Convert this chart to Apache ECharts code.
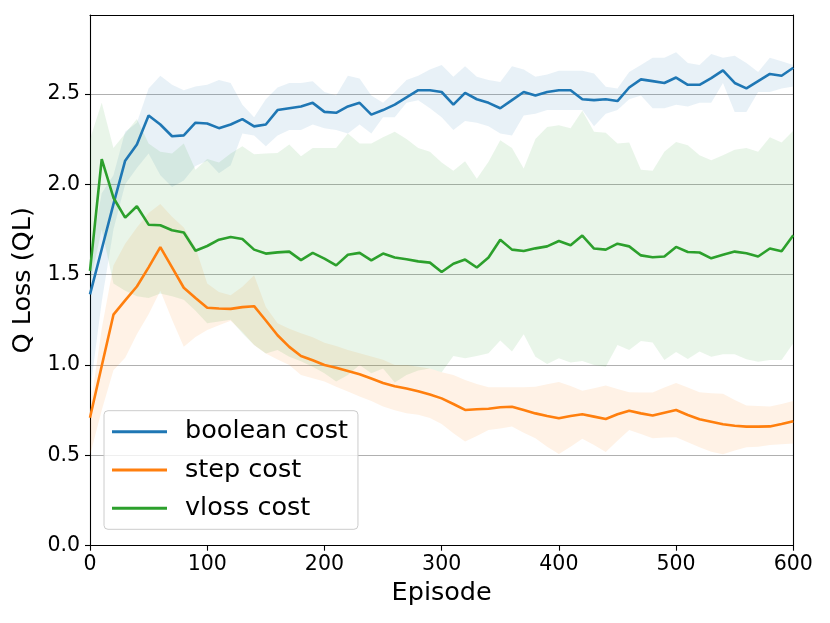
<!DOCTYPE html>
<html>
<head>
<meta charset="utf-8">
<script src="https://cdn.jsdelivr.net/npm/echarts@6/dist/echarts.min.js"></script>
<style>
  html, body { margin: 0; padding: 0; background: #fff; }
  #chart { width: 830px; height: 623px; }
</style>
</head>
<body>
<div id="chart"></div>
<script>
// episodes (x values)
const episodes = [0, 10, 20, 30, 40, 50, 60, 70, 80, 90,
  100, 110, 120, 130, 140, 150, 160, 170, 180, 190,
  200, 210, 220, 230, 240, 250, 260, 270, 280, 290,
  300, 310, 320, 330, 340, 350, 360, 370, 380, 390,
  400, 410, 420, 430, 440, 450, 460, 470, 480, 490,
  500, 510, 520, 530, 540, 550, 560, 570, 580, 590, 600];

const yTicks = [0, 0.5, 1.0, 1.5, 2.0, 2.5];
const seriesNames = ['boolean cost', 'step cost', 'vloss cost'];

// boolean cost
const booleanMean = [1.39, 1.64, 1.89, 2.13, 2.22, 2.38, 2.33, 2.265, 2.27, 2.34,
  2.336, 2.31, 2.33, 2.36, 2.32, 2.33, 2.41, 2.42, 2.43, 2.45,
  2.40, 2.395, 2.43, 2.45, 2.385, 2.41, 2.44, 2.48, 2.52, 2.52,
  2.51, 2.44, 2.505, 2.47, 2.45, 2.42, 2.465, 2.51, 2.49, 2.51,
  2.52, 2.52, 2.47, 2.465, 2.47, 2.46, 2.535, 2.58, 2.57, 2.56,
  2.59, 2.55, 2.55, 2.587, 2.63, 2.56, 2.53, 2.57, 2.61, 2.60, 2.644];
const booleanUpper = [1.6, 1.95, 2.05, 2.29, 2.34, 2.53, 2.60, 2.55, 2.52, 2.54,
  2.55, 2.576, 2.56, 2.44, 2.37, 2.47, 2.535, 2.56, 2.56, 2.57,
  2.51, 2.49, 2.60, 2.585, 2.49, 2.45, 2.51, 2.576, 2.60, 2.635,
  2.66, 2.594, 2.653, 2.594, 2.576, 2.566, 2.653, 2.635, 2.594, 2.607,
  2.627, 2.627, 2.627, 2.613, 2.539, 2.53, 2.62, 2.659, 2.70, 2.70,
  2.73, 2.67, 2.66, 2.72, 2.70, 2.71, 2.67, 2.62, 2.70, 2.68, 2.66];
const booleanLower = [0.85, 1.35, 1.75, 2.0, 2.09, 2.17, 2.05, 1.985, 2.02, 2.1,
  2.13, 2.06, 2.105, 2.28, 2.27, 2.21, 2.27, 2.30, 2.30, 2.33,
  2.31, 2.30, 2.28, 2.33, 2.28, 2.37, 2.37, 2.45, 2.465, 2.42,
  2.37, 2.30, 2.35, 2.34, 2.32, 2.28, 2.27, 2.38, 2.39, 2.41,
  2.41, 2.41, 2.41, 2.32, 2.39, 2.41, 2.47, 2.49, 2.42, 2.42,
  2.44, 2.43, 2.45, 2.45, 2.56, 2.40, 2.40, 2.51, 2.51, 2.53, 2.54];

// step cost
const stepMean = [0.708, 0.994, 1.278, 1.357, 1.434, 1.54, 1.652, 1.54, 1.427, 1.37,
  1.316, 1.312, 1.31, 1.32, 1.325, 1.246, 1.164, 1.10, 1.05, 1.026,
  1.0, 0.985, 0.967, 0.949, 0.925, 0.90, 0.882, 0.87, 0.855, 0.836,
  0.815, 0.784, 0.751, 0.755, 0.758, 0.766, 0.769, 0.751, 0.732, 0.718,
  0.705, 0.718, 0.727, 0.714, 0.701, 0.727, 0.747, 0.732, 0.72, 0.736,
  0.751, 0.723, 0.70, 0.686, 0.672, 0.664, 0.659, 0.659, 0.66, 0.673, 0.688];
const stepUpper = [0.75, 1.2, 1.55, 1.67, 1.76, 1.84, 1.89, 1.82, 1.76, 1.65,
  1.45, 1.404, 1.386, 1.432, 1.496, 1.32, 1.23, 1.20, 1.175, 1.153,
  1.123, 1.105, 1.083, 1.065, 1.047, 1.029, 1.0, 1.0, 0.99, 0.98,
  0.96, 0.945, 0.917, 0.895, 0.876, 0.876, 0.876, 0.876, 0.88, 0.893,
  0.906, 0.884, 0.857, 0.871, 0.886, 0.867, 0.849, 0.847, 0.847, 0.875,
  0.90, 0.875, 0.849, 0.843, 0.84, 0.806, 0.775, 0.773, 0.77, 0.784, 0.80];
const stepLower = [0.5, 0.75, 0.97, 1.04, 1.17, 1.28, 1.41, 1.25, 1.1, 1.155,
  1.193, 1.22, 1.245, 1.184, 1.11, 1.064, 1.03, 1.0, 0.945, 0.926,
  0.908, 0.88, 0.853, 0.825, 0.80, 0.77, 0.75, 0.733, 0.724, 0.706,
  0.673, 0.622, 0.576, 0.607, 0.64, 0.649, 0.659, 0.625, 0.594, 0.548,
  0.507, 0.548, 0.592, 0.557, 0.518, 0.581, 0.64, 0.618, 0.594, 0.598,
  0.60, 0.572, 0.544, 0.52, 0.506, 0.526, 0.544, 0.548, 0.557, 0.561, 0.566];

// vloss cost
const vlossMean = [1.52, 2.138, 1.925, 1.815, 1.878, 1.776, 1.773, 1.745, 1.733, 1.632,
  1.658, 1.693, 1.708, 1.697, 1.638, 1.616, 1.623, 1.627, 1.58, 1.62,
  1.588, 1.551, 1.61, 1.62, 1.579, 1.616, 1.594, 1.585, 1.573, 1.566,
  1.514, 1.56, 1.583, 1.539, 1.594, 1.693, 1.638, 1.63, 1.645, 1.656,
  1.686, 1.662, 1.716, 1.644, 1.638, 1.671, 1.656, 1.606, 1.596, 1.60,
  1.653, 1.625, 1.622, 1.59, 1.61, 1.627, 1.618, 1.60, 1.644, 1.629, 1.718];
const vlossUpper = [2.25, 2.45, 2.2, 2.28, 2.36, 2.225, 2.18, 2.17, 2.225, 2.08,
  2.14, 2.12, 2.17, 2.21, 2.166, 2.17, 2.173, 2.22, 2.155, 2.20,
  2.20, 2.20, 2.28, 2.225, 2.225, 2.26, 2.29, 2.25, 2.20, 2.18,
  2.12, 2.074, 2.127, 2.03, 2.124, 2.243, 2.20, 2.087, 2.25, 2.317,
  2.326, 2.31, 2.406, 2.29, 2.284, 2.225, 2.23, 2.08, 2.075, 2.18,
  2.234, 2.216, 2.16, 2.133, 2.16, 2.19, 2.20, 2.18, 2.26, 2.23, 2.295];
const vlossLower = [1.45, 1.75, 1.45, 1.41, 1.38, 1.37, 1.395, 1.38, 1.36, 1.3,
  1.23, 1.24, 1.25, 1.175, 1.11, 1.064, 1.083, 1.046, 1.02, 0.99,
  0.954, 0.908, 0.945, 1.0, 0.954, 0.98, 0.903, 0.945, 0.969, 0.98,
  0.96, 1.05, 1.037, 1.05, 1.065, 1.135, 1.074, 1.17, 1.046, 1.005,
  1.037, 1.013, 1.022, 1.0, 0.99, 1.11, 1.083, 1.133, 1.124, 1.028,
  1.072, 1.033, 1.074, 1.046, 1.059, 1.059, 1.031, 1.018, 1.028, 1.028, 1.12];

const colors = ['#1f77b4', '#ff7f0e', '#2ca02c'];
const FONT = 'DejaVu Sans';

const pairs = vals => episodes.map((x, i) => [x, vals[i]]);

// shaded band: one polygon (upper edge forward, lower edge back) through the axes
function band(lower, upper, color) {
  return {
    type: 'custom', silent: true, z: 1, clip: true,
    data: [[episodes[0], lower[0]]],
    renderItem: (params, api) => {
      const pts = [];
      episodes.forEach((x, i) => pts.push(api.coord([x, upper[i]])));
      for (let i = episodes.length - 1; i >= 0; i--) pts.push(api.coord([episodes[i], lower[i]]));
      return {
        type: 'polygon',
        shape: { points: pts },
        style: { fill: color, opacity: 0.1 }
      };
    }
  };
}

function meanLine(name, vals, color) {
  return {
    name: name, type: 'line', data: pairs(vals), symbol: 'none',
    color: color, lineStyle: { color: color, width: 2.6 }, z: 3
  };
}

const chart = echarts.init(document.getElementById('chart'), null, { renderer: 'canvas' });

const frameAxis = { show: true, onZero: false, lineStyle: { color: '#000', width: 1.1 } };

chart.setOption({
  animation: false,
  backgroundColor: '#fff',
  grid: { left: 90, right: 36.7, top: 15, bottom: 77.3 },
  legend: {
    data: seriesNames,
    orient: 'vertical',
    left: 104, top: 410.7,
    icon: 'rect',
    itemWidth: 55, itemHeight: 3,
    itemGap: 12.3,
    padding: [8, 10, 8, 8],
    backgroundColor: 'rgba(255,255,255,0.8)',
    borderColor: '#cccccc', borderWidth: 1, borderRadius: 4,
    textStyle: { fontFamily: FONT, fontSize: 25.5, color: '#000', lineHeight: 26, padding: [0, 0, 0, 13] }
  },
  xAxis: [
    {
      type: 'value', min: 0, max: 600, interval: 100,
      name: 'Episode', nameLocation: 'middle', nameGap: 35,
      nameTextStyle: { fontFamily: FONT, fontSize: 25.5, color: '#000' },
      axisLine: frameAxis,
      axisTick: { show: true, length: 5, lineStyle: { color: '#000', width: 1.1 } },
      axisLabel: { fontFamily: FONT, fontSize: 20.5, color: '#000', margin: 8 },
      splitLine: { show: false }
    },
    {
      type: 'value', position: 'top', min: 0, max: 600,
      axisLine: frameAxis, axisTick: { show: false }, axisLabel: { show: false }, splitLine: { show: false }
    }
  ],
  yAxis: [
    {
      type: 'value', min: 0, max: 2.936, interval: 0.5,
      name: 'Q Loss (QL)', nameLocation: 'middle', nameGap: 51, nameRotate: 90,
      nameTextStyle: { fontFamily: FONT, fontSize: 25.5, color: '#000' },
      axisLine: frameAxis,
      axisTick: { show: true, length: 5, lineStyle: { color: '#000', width: 1.1 }, customValues: yTicks },
      axisLabel: {
        fontFamily: FONT, fontSize: 20.5, color: '#000', margin: 10,
        formatter: v => (Math.abs(v / 0.5 - Math.round(v / 0.5)) < 1e-6 ? v.toFixed(1) : '')
      },
      splitLine: { show: true, lineStyle: { color: '#b0b0b0', width: 1.1 } }
    },
    {
      type: 'value', position: 'right', min: 0, max: 2.936,
      axisLine: frameAxis, axisTick: { show: false }, axisLabel: { show: false }, splitLine: { show: false }
    }
  ],
  series: [
    band(booleanLower, booleanUpper, colors[0]),
    band(stepLower, stepUpper, colors[1]),
    band(vlossLower, vlossUpper, colors[2]),
    meanLine(seriesNames[0], booleanMean, colors[0]),
    meanLine(seriesNames[1], stepMean, colors[1]),
    meanLine(seriesNames[2], vlossMean, colors[2])
  ]
});
</script>
</body>
</html>
